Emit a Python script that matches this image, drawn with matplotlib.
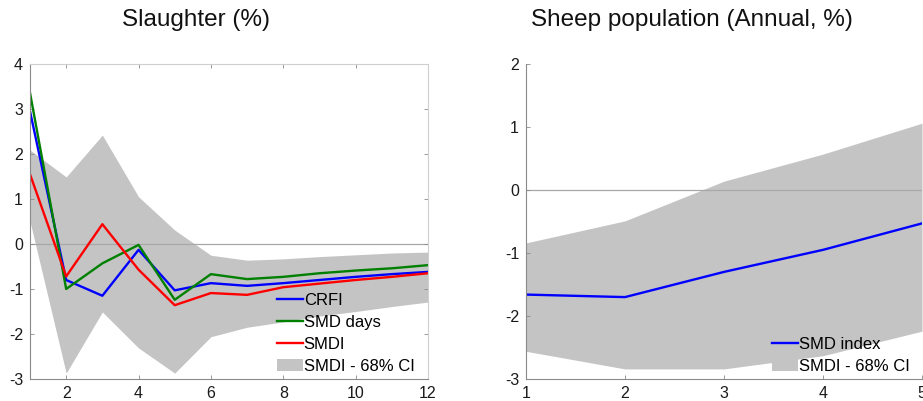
import matplotlib
matplotlib.use("Agg")
import matplotlib.pyplot as plt
import numpy as np

plt.rcParams['font.family'] = ['Liberation Sans', 'DejaVu Sans']
plt.rcParams['axes.unicode_minus'] = False

# Slaughter (%) - impulse responses over 12 periods
horizon_left = [1, 2, 3, 4, 5, 6, 7, 8, 9, 10, 11, 12]
crfi = [2.95, -0.80, -1.15, -0.13, -1.03, -0.87, -0.93, -0.87, -0.80, -0.73, -0.67, -0.62]
smd_days = [3.36, -1.00, -0.43, -0.02, -1.24, -0.67, -0.78, -0.73, -0.65, -0.59, -0.54, -0.47]
smdi = [1.55, -0.72, 0.44, -0.57, -1.36, -1.09, -1.13, -0.96, -0.88, -0.80, -0.73, -0.65]
smdi_hi = [2.09, 1.49, 2.42, 1.05, 0.31, -0.25, -0.36, -0.33, -0.28, -0.24, -0.20, -0.18]
smdi_lo = [0.50, -2.87, -1.51, -2.31, -2.87, -2.06, -1.85, -1.73, -1.60, -1.50, -1.39, -1.29]

# Sheep population (Annual, %)
horizon_right = [1, 2, 3, 4, 5]
smd_index = [-1.66, -1.70, -1.30, -0.95, -0.53]
smd_index_hi = [-0.84, -0.49, 0.14, 0.57, 1.06]
smd_index_lo = [-2.56, -2.84, -2.84, -2.63, -2.24]

W, H = 923, 401
fig = plt.figure(figsize=(W / 100, H / 100), dpi=100)

band_color = "#c4c4c4"
spine_dark = "#8a8a8a"
spine_light = "#cfcfcf"


def px_axes(x0, x1, y0, y1):
    return fig.add_axes([x0 / W, 1 - y1 / H, (x1 - x0) / W, (y1 - y0) / H])


def style_axes(ax, box=True):
    ax.tick_params(direction="in", length=3, width=0.6, colors=spine_dark,
                   labelcolor="#1a1a1a", labelsize=11.5, pad=5)
    ax.spines["left"].set_color(spine_dark)
    ax.spines["bottom"].set_color(spine_dark)
    if box:
        ax.spines["top"].set_color(spine_light)
        ax.spines["right"].set_color(spine_light)
        ax.tick_params(top=True, right=True)
    else:
        ax.spines["top"].set_visible(False)
        ax.spines["right"].set_visible(False)
    for s in ax.spines.values():
        s.set_linewidth(0.8)


# ---- left panel ----
ax1 = px_axes(30, 428, 64, 379)
ax1.fill_between(horizon_left, smdi_lo, smdi_hi, color=band_color, lw=0,
                 label="SMDI - 68% CI")
ax1.axhline(0, color="#a8a8a8", lw=0.9, zorder=1)
ax1.plot(horizon_left, crfi, color="#0000ff", lw=1.7, label="CRFI")
ax1.plot(horizon_left, smd_days, color="#008000", lw=1.7, label="SMD days")
ax1.plot(horizon_left, smdi, color="#ff0000", lw=1.7, label="SMDI")
ax1.set_xlim(1, 12)
ax1.set_ylim(-3, 4)
ax1.set_xticks([2, 4, 6, 8, 10, 12])
ax1.set_yticks([-3, -2, -1, 0, 1, 2, 3, 4])
style_axes(ax1, box=True)

h, l = ax1.get_legend_handles_labels()
order = [1, 2, 3, 0]
leg1 = ax1.legend([h[i] for i in order], [l[i] for i in order],
                  loc="lower left", bbox_to_anchor=(277 / W, 1 - 374 / H),
                  bbox_transform=fig.transFigure, frameon=False, fontsize=12,
                  handlelength=1.55, handletextpad=0.05, labelspacing=0.42,
                  borderpad=0, borderaxespad=0)
leg1.legend_handles[3].set_edgecolor("#909090")

fig.text(196 / W, 1 - 20 / H, "Slaughter (%)", ha="center", va="center",
         fontsize=17.5, color="#111111")

# ---- right panel ----
ax2 = px_axes(526, 922, 64, 379)
ax2.fill_between(horizon_right, smd_index_lo, smd_index_hi, color=band_color,
                 lw=0, label="SMDI - 68% CI")
ax2.axhline(0, color="#a8a8a8", lw=0.9, zorder=1)
ax2.plot(horizon_right, smd_index, color="#0000ff", lw=1.7, label="SMD index")
ax2.set_xlim(1, 5)
ax2.set_ylim(-3, 2)
ax2.set_xticks([1, 2, 3, 4, 5])
ax2.set_yticks([-3, -2, -1, 0, 1, 2])
style_axes(ax2, box=False)
for s in ax2.spines.values():
    s.set_clip_on(False)

h2, l2 = ax2.get_legend_handles_labels()
leg2 = ax2.legend([h2[1], h2[0]], [l2[1], l2[0]],
                  loc="lower left", bbox_to_anchor=(772 / W, 1 - 374 / H),
                  bbox_transform=fig.transFigure, frameon=False, fontsize=12,
                  handlelength=1.55, handletextpad=0.05, labelspacing=0.42,
                  borderpad=0, borderaxespad=0)
leg2.legend_handles[1].set_edgecolor("#909090")

fig.text(692 / W, 1 - 20 / H, "Sheep population (Annual, %)", ha="center",
         va="center", fontsize=17.5, color="#111111")

fig.savefig("out.png", dpi=100)
